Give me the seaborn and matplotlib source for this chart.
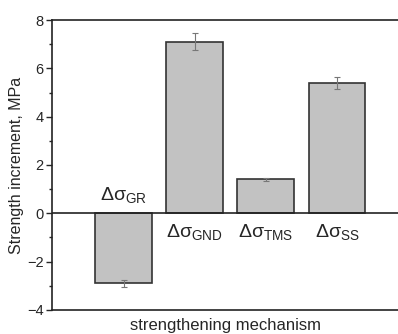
import matplotlib
matplotlib.use("Agg")
import matplotlib.pyplot as plt
import seaborn as sns
import pandas as pd

categories = ["GR", "GND", "TMS", "SS"]
values = [-2.9, 7.1, 1.4, 5.4]
errors = [0.15, 0.35, 0.05, 0.25]
label_y = [0.75, -0.78, -0.78, -0.78]

sns.set_style("white")
plt.rcParams['font.family'] = ['Liberation Sans', 'DejaVu Sans']
plt.rcParams['mathtext.default'] = 'regular'

df = pd.DataFrame({"mech": categories, "val": values})
fig = plt.figure(figsize=(3.98, 3.34), dpi=100)
ax = fig.add_axes([0.131, 0.072, 0.869, 0.868])
sns.barplot(data=df, x="mech", y="val", color="#c2c2c2", saturation=1,
            edgecolor="#333333", linewidth=1.2, width=0.8, ax=ax, errorbar=None)
ax.errorbar(range(len(categories)), values, yerr=errors, fmt="none",
            ecolor="#777777", elinewidth=0.8, capsize=2.5, capthick=0.8)
ax.axhline(0, color="#222222", lw=1.2, zorder=3)
for i, (c, ly) in enumerate(zip(categories, label_y)):
    ax.text(i, ly, r"$\Delta\sigma_{%s}$" % c, ha="center", va="center",
            fontsize=14)
ax.set_xlim(-1.01, 3.86)
ax.set_ylim(-4, 8)
ax.set_yticks([-4, -2, 0, 2, 4, 6, 8])
ax.set_yticks([-3, -1, 1, 3, 5, 7], minor=True)
ax.set_xticks([])
ax.tick_params(axis="y", which="major", direction="out", length=4, width=1, labelsize=10.5, left=True, pad=2)
ax.tick_params(axis="y", which="minor", direction="out", length=2.5, width=1, left=True)
for s in ["left", "top", "bottom"]:
    ax.spines[s].set_color("#222222")
    ax.spines[s].set_linewidth(1.2)
ax.spines["right"].set_visible(False)
ax.set_ylabel("Strength increment, MPa", fontsize=11.5, labelpad=2)
ax.set_xlabel("strengthening mechanism", fontsize=12, labelpad=6)
fig.savefig("out.png", dpi=100)
